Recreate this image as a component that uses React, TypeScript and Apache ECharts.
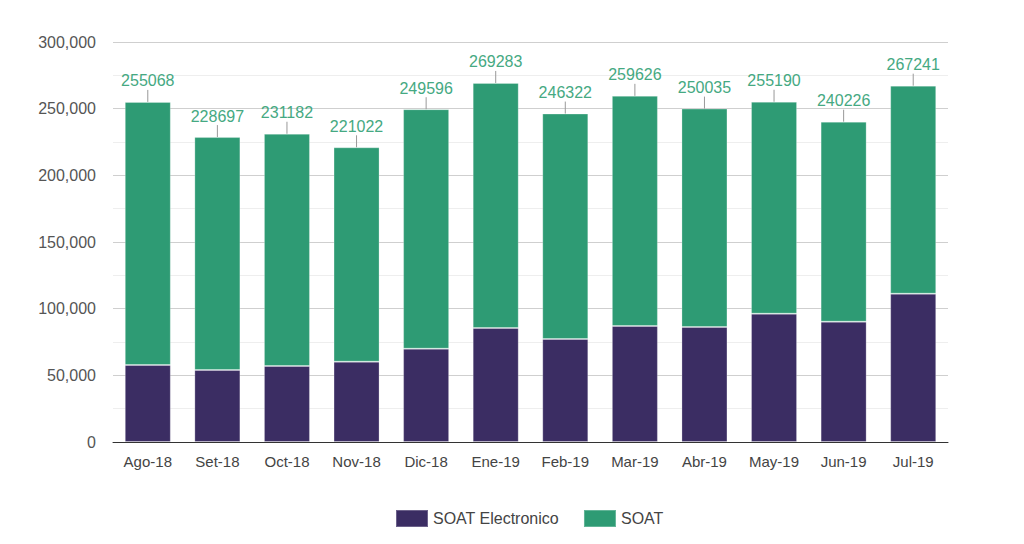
import React, { useEffect, useRef } from "react";
import * as echarts from "echarts";

const categories = ["Ago-18", "Set-18", "Oct-18", "Nov-18", "Dic-18", "Ene-19", "Feb-19", "Mar-19", "Abr-19", "May-19", "Jun-19", "Jul-19"];
const electronico = [57750, 54000, 57000, 60250, 70000, 85500, 77250, 87000, 86250, 96250, 90250, 111250];
const soat = [197318, 174697, 174182, 160772, 179596, 183783, 169072, 172626, 163785, 158940, 149976, 155991];
const totals = [255068, 228697, 231182, 221022, 249596, 269283, 246322, 259626, 250035, 255190, 240226, 267241];

const PURPLE = "#3b2d63";
const GREEN = "#2e9b74";
const LABEL_GREEN = "#45a982";
const FONT = "Liberation Sans, Arial, sans-serif";

export default function App() {
  const ref = useRef<HTMLDivElement>(null);
  useEffect(() => {
    if (!ref.current) return;
    const chart = echarts.init(ref.current, null, { renderer: "svg" });
    chart.setOption({
      animation: false,
      textStyle: { fontFamily: FONT },
      grid: { left: 113, right: 76, top: 42, bottom: 102 },
      legend: {
        data: ["SOAT Electronico", "SOAT"],
        top: 504,
        left: 390,
        itemWidth: 32,
        itemHeight: 17,
        itemGap: 24,
        textStyle: { fontSize: 16, color: "#444", fontFamily: FONT },
        icon: "rect",
      },
      xAxis: {
        type: "category",
        data: categories,
        axisLine: { lineStyle: { color: "#333" } },
        axisTick: { show: false },
        axisLabel: { color: "#444", fontSize: 15, margin: 12, fontFamily: FONT },
      },
      yAxis: {
        type: "value",
        min: 0,
        max: 300000,
        interval: 50000,
        axisLine: { show: false },
        axisTick: { show: false },
        axisLabel: {
          color: "#555",
          fontSize: 16,
          margin: 17,
          fontFamily: FONT,
          formatter: (v: number) => v.toLocaleString("en-US"),
        },
        splitLine: { lineStyle: { color: "#cfcfcf" } },
        minorTick: { show: false, splitNumber: 2 },
        minorSplitLine: { show: true, lineStyle: { color: "#eeeeee" } },
      },
      series: [
        {
          name: "SOAT Electronico",
          type: "bar",
          stack: "total",
          data: electronico,
          barWidth: 46,
          itemStyle: { color: PURPLE, borderColor: "rgba(255,255,255,0.25)", borderWidth: 1 },
        },
        {
          name: "SOAT",
          type: "bar",
          stack: "total",
          data: soat,
          barWidth: 46,
          itemStyle: { color: GREEN, borderColor: "rgba(255,255,255,0.25)", borderWidth: 1 },
        },
        {
          name: "totals",
          type: "custom",
          data: totals.map((t, i) => [i, t]),
          z: 10,
          renderItem: (params: any, api: any) => {
            const p = api.coord([api.value(0), api.value(1)]);
            const val = totals[params.dataIndex];
            return {
              type: "group",
              children: [
                {
                  type: "line",
                  shape: { x1: p[0], y1: p[1], x2: p[0], y2: p[1] - 12 },
                  style: { stroke: "#999", lineWidth: 1 },
                },
                {
                  type: "text",
                  x: p[0],
                  y: p[1] - 21,
                  style: {
                    text: String(val),
                    fill: LABEL_GREEN,
                    font: `16px ${FONT}`,
                    align: "center",
                    verticalAlign: "middle",
                    textAlign: "center",
                    textVerticalAlign: "middle",
                  },
                },
              ],
            };
          },
        },
      ],
    });
    return () => chart.dispose();
  }, []);
  return <div ref={ref} style={{ width: 1024, height: 544, margin: -8 }} />;
}
